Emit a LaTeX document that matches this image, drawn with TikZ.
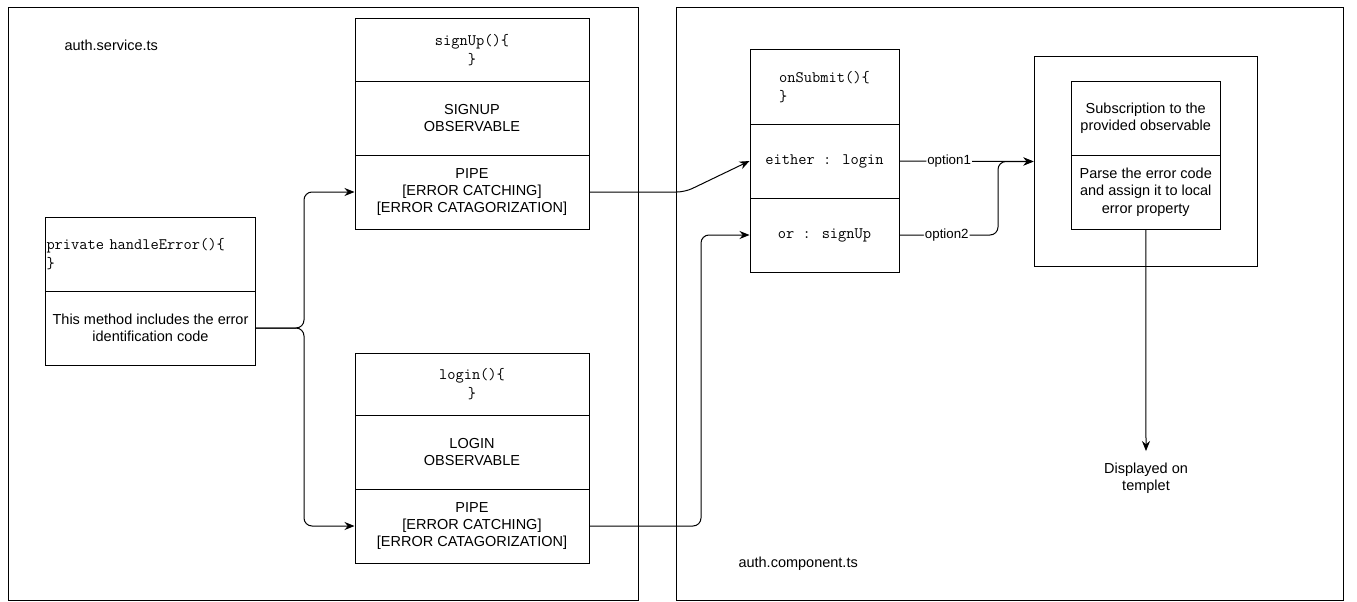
\documentclass[tikz,border=0pt]{standalone}
\usepackage{fontspec}
\setmainfont{Liberation Sans}
\usetikzlibrary{arrows.meta}

\tikzset{
  cell/.style={draw, inner sep=0pt, align=center, font=\fontsize{14.5}{17.4}\selectfont},
  code/.style={cell, font=\ttfamily\fontsize{16}{18.5}\selectfont},
  conn/.style={-{Stealth[length=10pt,width=8pt]}, rounded corners=8pt},
  edgelabel/.style={fill=white, inner sep=1pt, font=\fontsize{13.3}{16}\selectfont},
  plain/.style={inner sep=0pt, align=center, font=\fontsize{14.5}{17.4}\selectfont}
}

\begin{document}
\begin{tikzpicture}[x=1pt, y=-1pt, line width=1pt]
\useasboundingbox (0,0) rectangle (1357,602);
\draw (8,8) rectangle (638,600);
\draw (676,8) rectangle (1343,600);
\node[plain, anchor=west] (svcName) at (64,45) {auth.service.ts};
\node[plain, anchor=west] (cmpName) at (738,564) {auth.component.ts};

\node[code, align=left, text width=208pt, inner xsep=1pt, minimum height=74pt] (heHead) at (150.5,254) {private handleError()\{\\\}};
\node[cell, minimum width=210pt, minimum height=74pt] (heBody) at (150.5,328) {This method includes the error\\identification code};

\node[code, minimum width=234pt, minimum height=62pt] (suHead) at (472,50) {signUp()\{\\\}};
\node[cell, minimum width=234pt, minimum height=74pt] (suBody) at (472,118) {SIGNUP\\OBSERVABLE};
\node[cell, minimum width=234pt, minimum height=74pt] (suPipe) at (472,192) {PIPE\\{[ERROR CATCHING]}\\{[ERROR CATAGORIZATION]}};

\node[code, minimum width=234pt, minimum height=62pt] (liHead) at (472,384) {login()\{\\\}};
\node[cell, minimum width=234pt, minimum height=74pt] (liBody) at (472,452) {LOGIN\\OBSERVABLE};
\node[cell, minimum width=234pt, minimum height=74pt] (liPipe) at (472,526) {PIPE\\{[ERROR CATCHING]}\\{[ERROR CATAGORIZATION]}};

\node[code, align=left, minimum width=149pt, minimum height=74pt] (osHead) at (824.5,87) {onSubmit()\{\\\}};
\node[code, minimum width=149pt, minimum height=74pt] (osEither) at (824.5,161) {either : login};
\node[code, minimum width=149pt, minimum height=74pt] (osOr) at (824.5,235) {or : signUp};

\node[cell, minimum width=223pt, minimum height=209pt] (resBox) at (1145.5,161.5) {};
\node[cell, minimum width=148.5pt, minimum height=74pt] (subscribe) at (1145.75,118) {Subscription to the\\provided observable};
\node[cell, minimum width=148.5pt, minimum height=74pt] (parse) at (1145.75,192) {Parse the error code\\and assign it to local\\error property};
\node[plain, inner ysep=11pt] (shown) at (1146,478) {Displayed on\\templet};

\coordinate (fork) at (304,328);
\coordinate (bendA) at (685,192);
\coordinate (bendB) at (701,235);
\coordinate (bendC) at (998,235);
\draw[conn] (heBody.east) -- (fork) |- (suPipe.west);
\draw[conn] (heBody.east) -- (fork) |- (liPipe.west);
\draw[conn] (suPipe.east) -- (bendA) -- (osEither.west);
\draw[conn] (liPipe.east) -| (bendB) -- (osOr.west);
\draw[conn] (osEither.east) -- node[edgelabel, pos=0.37]{option1} (resBox.west);
\draw[conn] (osOr.east) -- node[edgelabel, pos=0.48]{option2} (bendC) |- (resBox.west);
\draw[conn] (parse.south) -- (shown.north);
\end{tikzpicture}
\end{document}
